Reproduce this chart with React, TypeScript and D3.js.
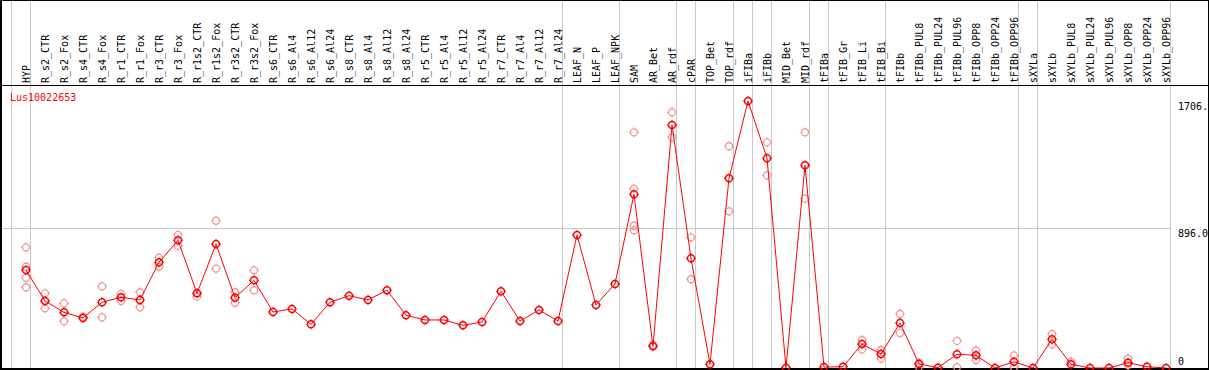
import React from "react";
import * as d3 from "d3";

const categories: string[] = [
  "HYP", "R_s2_CTR", "R_s2_Fox", "R_s4_CTR", "R_s4_Fox", "R_r1_CTR", "R_r1_Fox", "R_r3_CTR", "R_r3_Fox",
  "R_r1s2_CTR", "R_r1s2_Fox", "R_r3s2_CTR", "R_r3s2_Fox", "R_s6_CTR", "R_s6_Al4", "R_s6_Al12", "R_s6_Al24",
  "R_s8_CTR", "R_s8_Al4", "R_s8_Al12", "R_s8_Al24", "R_r5_CTR", "R_r5_Al4", "R_r5_Al12", "R_r5_Al24",
  "R_r7_CTR", "R_r7_Al4", "R_r7_Al12", "R_r7_Al24", "LEAF_N", "LEAF_P", "LEAF_NPK", "SAM", "AR_Bet", "AR_rdf",
  "cPAR", "TOP_Bet", "TOP_rdf", "iFIBa", "iFIBb", "MID_Bet", "MID_rdf", "tFIBa", "tFIB_Gr", "tFIB_Li", "tFIB_Bi",
  "tFIBb", "tFIBb_PUL8", "tFIBb_PUL24", "tFIBb_PUL96", "tFIBb_OPP8", "tFIBb_OPP24", "tFIBb_OPP96", "sXYLa",
  "sXYLb", "sXYLb_PUL8", "sXYLb_PUL24", "sXYLb_PUL96", "sXYLb_OPP8", "sXYLb_OPP24", "sXYLb_OPP96",
];

const meanValues: number[] = [
  626, 428, 356, 320, 420, 452, 435, 675, 816, 477, 792, 449, 560, 358, 377, 279, 420, 462, 435, 497, 337,
  307, 307, 273, 294, 490, 300, 371, 300, 850, 403, 537, 1110, 139, 1553, 701, 24, 1212, 1706, 1340, 2, 1295,
  6, 8, 153, 89, 288, 26, 2, 88, 81, 0, 40, 0, 183, 24, 0, 0, 34, 8, 0,
];

const replicateValues: number[][] = [
  [771, 647, 577, 516], [477, 381], [413, 298], [328], [522, 324], [473, 428], [484, 388], [705, 647], [850, 780],
  [479, 456], [941, 635], [484, 417], [624, 497], [], [], [], [], [], [], [], [], [], [], [], [], [], [], [], [],
  [], [], [], [1506, 1146, 909, 880], [147], [1634, 1474], [835, 567], [], [1417, 1001], [], [1442, 1231], [],
  [1506, 1082], [], [], [179, 119], [115, 60], [345, 224], [32, 6], [], [173, 6], [113, 51], [], [81, 4], [],
  [217, 151], [40], [], [], [60, 19], [], [],
];

const groupStarts: string[] = [
  "HYP", "R_s2_CTR", "LEAF_N", "SAM", "cPAR", "TOP_Bet", "iFIBa", "iFIBb", "MID_Bet", "tFIBa", "tFIB_Gr",
  "tFIBb", "sXYLa", "sXYLb",
];

const yTicks: { value: number; label: string }[] = [
  { value: 1706, label: "1706." },
  { value: 896, label: "896.0" },
  { value: 0, label: "0" },
];

const geneName = "Lus10022653";

const W = 1209;
const H = 370;
const FONT = "'DejaVu Sans Mono', monospace";

function Marker({ cx, cy, color, sw }: { cx: number; cy: number; color: string; sw: number }) {
  const r = 3.5;
  return (
    <g stroke={color} strokeWidth={sw} fill="none">
      <circle cx={cx} cy={cy} r={r} />
      <line x1={cx} x2={cx} y1={cy - r - 1.5} y2={cy - r} strokeWidth={1} />
      <line x1={cx} x2={cx} y1={cy + r} y2={cy + r + 1.5} strokeWidth={1} />
      <line x1={cx - r - 1.5} x2={cx - r} y1={cy} y2={cy} strokeWidth={1} />
      <line x1={cx + r} x2={cx + r + 1.5} y1={cy} y2={cy} strokeWidth={1} />
    </g>
  );
}

export default function App() {
  const x = d3.scalePoint<string>().domain(categories).range([26, 1166]).padding(0);
  const y = d3.scaleLinear().domain([0, 1706]).range([368, 101]);
  const headerBottom = 85;
  const plotRight = (x(categories[categories.length - 1]) as number) + 4.5;

  const seps = groupStarts.map((c) => (x(c) as number) - 15 + 0.5);
  seps.push(plotRight);

  const line = d3
    .line<number>()
    .x((_, i) => x(categories[i]) as number)
    .y((d) => y(d));

  return (
    <svg
      width={W}
      height={H}
      style={{ position: "absolute", left: 0, top: 0, background: "#fff" }}
      fontFamily={FONT}
      fontSize={10}
    >
      <rect x={0} y={0} width={W} height={H} fill="#fff" />
      {seps.map((sx, i) => (
        <line key={"s" + i} x1={sx} x2={sx} y1={0} y2={H} stroke="#c8c8c8" strokeWidth={1} />
      ))}
      <line x1={1} x2={plotRight} y1={Math.round(y(896)) + 0.5} y2={Math.round(y(896)) + 0.5} stroke="#c8c8c8" />
      <line x1={0} x2={W} y1={0.5} y2={0.5} stroke="#000" />
      <line x1={0} x2={W} y1={headerBottom + 0.5} y2={headerBottom + 0.5} stroke="#000" />
      <line x1={0} x2={W} y1={369} y2={369} stroke="#000" strokeWidth={2} />
      <line x1={1} x2={1} y1={0} y2={H} stroke="#000" strokeWidth={2} />
      <line x1={W - 0.5} x2={W - 0.5} y1={0} y2={H} stroke="#000" />
      {categories.map((c) => (
        <text
          key={c}
          transform={`translate(${(x(c) as number) + 0.5},${headerBottom - 2}) rotate(-90)`}
          dominantBaseline="central"
          fill="#000"
        >
          {c}
        </text>
      ))}
      <text x={10} y={101} fill="#ff0000">
        {geneName}
      </text>
      {yTicks.map((t) => (
        <text key={t.label} x={1178} y={Math.min(y(t.value) + 9, 365)} fill="#000">
          {t.label}
        </text>
      ))}
      {replicateValues.map((reps, i) =>
        reps.map((v, j) => (
          <Marker key={`r${i}-${j}`} cx={x(categories[i]) as number} cy={y(v)} color="#ee9a9a" sw={1.3} />
        ))
      )}
      <path d={line(meanValues) || ""} fill="none" stroke="#ff0000" strokeWidth={1} />
      {meanValues.map((v, i) => (
        <Marker key={"m" + i} cx={x(categories[i]) as number} cy={y(v)} color="#ff0000" sw={1.5} />
      ))}
    </svg>
  );
}
